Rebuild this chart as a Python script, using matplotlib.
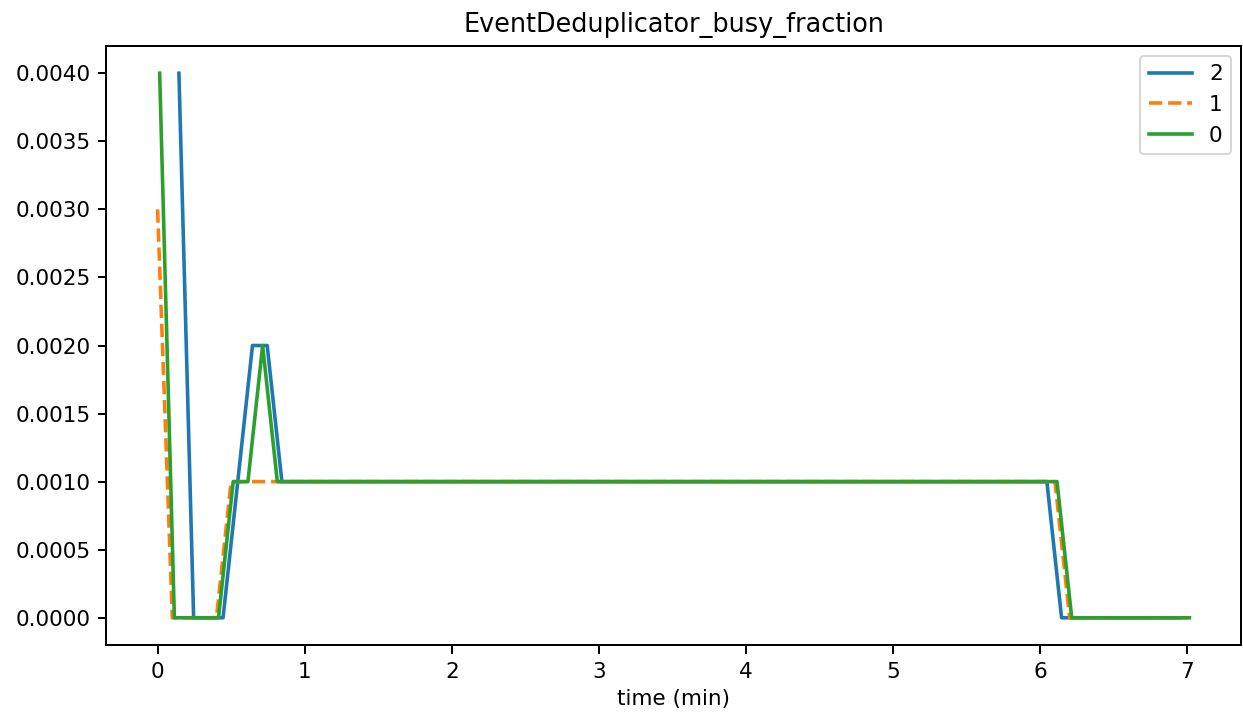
import matplotlib
matplotlib.use("Agg")
import matplotlib.pyplot as plt

# Series (breakpoints of the piecewise-linear traces), time in minutes
t2 = [0.145, 0.245, 0.445, 0.545, 0.645, 0.745, 0.845, 6.045, 6.145, 6.945]
v2 = [0.004, 0.0, 0.0, 0.001, 0.002, 0.002, 0.001, 0.001, 0.0, 0.0]

t1 = [0.0, 0.1, 0.4, 0.5, 6.1, 6.2, 7.0]
v1 = [0.003, 0.0, 0.0, 0.001, 0.001, 0.0, 0.0]

t0 = [0.014, 0.114, 0.414, 0.514, 0.614, 0.714, 0.814, 6.114, 6.214, 7.014]
v0 = [0.004, 0.0, 0.0, 0.001, 0.001, 0.002, 0.001, 0.001, 0.0, 0.0]

title = "EventDeduplicator_busy_fraction"
xlabel = "time (min)"
yticks = [0.0, 0.0005, 0.001, 0.0015, 0.002, 0.0025, 0.003, 0.0035, 0.004]
yticklabels = ["0.0000", "0.0005", "0.0010", "0.0015", "0.0020",
               "0.0025", "0.0030", "0.0035", "0.0040"]

# work at 72 dpi so that 1 pt == 1 px
dpi = 72
W, H = 1243, 721
fs = 21.5
plt.rcParams.update({
    "font.size": fs,
    "axes.linewidth": 2.0,
    "xtick.major.size": 8.5, "ytick.major.size": 8.5,
    "xtick.major.width": 2.0, "ytick.major.width": 2.0,
    "xtick.major.pad": 8, "ytick.major.pad": 7,
    "lines.linewidth": 3.6,
})

fig = plt.figure(figsize=(W / dpi, H / dpi), dpi=dpi)
ax = fig.add_axes([106 / W, (H - 645) / H, (1241 - 106) / W, (645 - 46) / H])

ax.plot(t2, v2, color="#1f77b4", linestyle="-", label="2")
ax.plot(t1, v1, color="#ff7f0e", linestyle="--", label="1")
ax.plot(t0, v0, color="#2ca02c", linestyle="-", label="0")

ax.set_title(title, fontsize=25.5, pad=14)
ax.set_xlabel(xlabel, fontsize=fs, labelpad=7)
ax.set_yticks(yticks)
ax.set_yticklabels(yticklabels)
leg = ax.legend(loc="upper right", fontsize=fs, borderaxespad=0.45)
leg.get_frame().set_linewidth(2.0)

fig.savefig("out.png", dpi=dpi)
